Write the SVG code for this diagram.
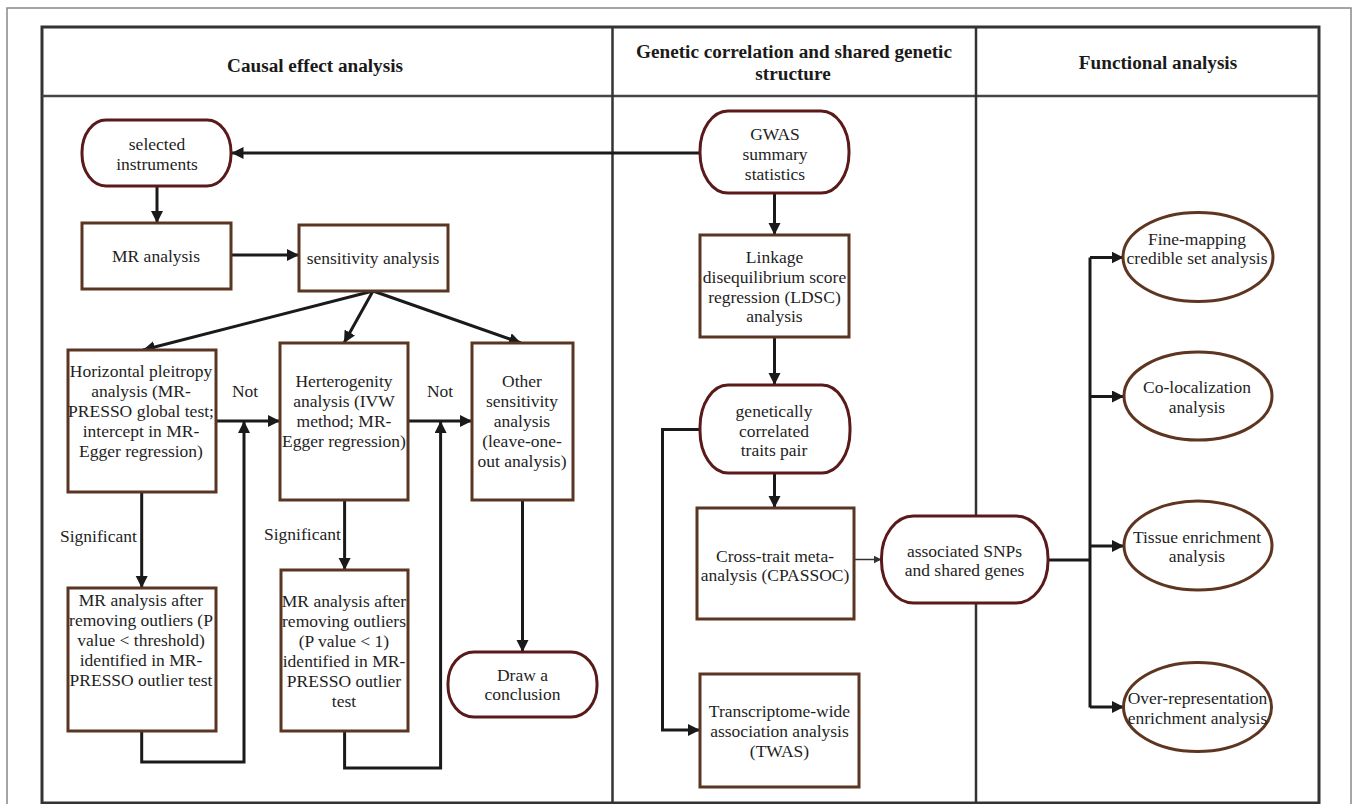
<svg xmlns="http://www.w3.org/2000/svg" width="1357" height="804" viewBox="0 0 1357 804">
<defs>
<style>
.t{font-family:"Liberation Serif","Times New Roman",serif;font-size:17.5px;fill:#1e1e1e;text-anchor:middle}
.l{font-family:"Liberation Serif","Times New Roman",serif;font-size:17.5px;fill:#1e1e1e}
.h{font-family:"Liberation Serif","Times New Roman",serif;font-size:19.2px;font-weight:bold;fill:#1a1a1a;text-anchor:middle}
.st{fill:#fff;stroke:#5b1a1a;stroke-width:3}
.bx{fill:#fff;stroke:#5a3522;stroke-width:3}
.el{fill:#fff;stroke:#5e3520;stroke-width:3}
.c{fill:none;stroke:#1a1a1a;stroke-width:3;marker-end:url(#ah)}
.cn{fill:none;stroke:#1a1a1a;stroke-width:3}
.grid{fill:none;stroke:#333;stroke-width:3}
</style>
<marker id="ah" markerUnits="userSpaceOnUse" markerWidth="13" markerHeight="13" refX="12" refY="6" orient="auto">
<path d="M0,0 L12,6 L0,12 z" fill="#1a1a1a"/>
</marker>
<marker id="ahs" markerUnits="userSpaceOnUse" markerWidth="9" markerHeight="9" refX="8" refY="4" orient="auto">
<path d="M0,0 L8,4 L0,8 z" fill="#333"/>
</marker>
</defs>
<rect x="0" y="0" width="1357" height="804" fill="#fff"/>
<rect x="7" y="8" width="1344" height="810" fill="none" stroke="#888" stroke-width="1.5"/>
<g id="table">
<rect x="42" y="27" width="1277" height="776" class="grid"/>
<line x1="42" y1="96" x2="1319" y2="96" stroke="#444" stroke-width="2.5"/>
<line x1="612.5" y1="27" x2="612.5" y2="803" stroke="#333" stroke-width="2.5"/>
<line x1="976" y1="27" x2="976" y2="803" stroke="#333" stroke-width="2.5"/>
<text class="h" x="315" y="71.5">Causal effect analysis</text>
<text class="h" x="794" y="58">Genetic correlation and shared genetic</text>
<text class="h" x="793" y="80">structure</text>
<text class="h" x="1158" y="69">Functional analysis</text>
</g>
<g id="connectors">
<line class="c" x1="700" y1="153" x2="231.5" y2="153"/>
<line class="c" x1="157" y1="186" x2="157" y2="223"/>
<line class="c" x1="231" y1="255" x2="299" y2="255"/>
<line class="c" x1="373" y1="291" x2="143" y2="350"/>
<line class="c" x1="373" y1="291" x2="344" y2="343"/>
<line class="c" x1="373" y1="291" x2="521" y2="343"/>
<line class="c" x1="216" y1="421" x2="280" y2="421"/>
<line class="c" x1="408" y1="421" x2="472" y2="421"/>
<line class="c" x1="141.7" y1="492" x2="141.7" y2="588"/>
<line class="c" x1="344.6" y1="500" x2="344.6" y2="570"/>
<line class="c" x1="522.5" y1="500" x2="522.5" y2="652"/>
<polyline class="c" points="141.7,731 141.7,762 244,762 244,421"/>
<polyline class="c" points="344.6,731 344.6,768 440.6,768 440.6,421"/>
<line class="c" x1="774.5" y1="193" x2="774.5" y2="235"/>
<line class="c" x1="774.5" y1="337" x2="774.5" y2="385"/>
<line class="c" x1="774.5" y1="473" x2="774.5" y2="508"/>
<polyline class="c" points="700,429.5 662.5,429.5 662.5,730 700,730"/>
<line x1="854" y1="559.5" x2="881.5" y2="559.5" stroke="#333" stroke-width="1.5" marker-end="url(#ahs)"/>
<line class="cn" x1="1048" y1="560" x2="1090" y2="560"/>
<line class="cn" x1="1090" y1="257.5" x2="1090" y2="707.5"/>
<line class="c" x1="1090" y1="257.5" x2="1123.5" y2="257.5"/>
<line class="c" x1="1090" y1="396.5" x2="1124" y2="396.5"/>
<line class="c" x1="1090" y1="546" x2="1124" y2="546"/>
<line class="c" x1="1090" y1="707" x2="1124" y2="707"/>
</g>
<g id="labels">
<text class="t" x="245" y="397">Not</text>
<text class="t" x="440" y="397">Not</text>
<text class="l" x="60" y="541.5">Significant</text>
<text class="l" x="264" y="540">Significant</text>
</g>
<g id="n_selected">
<rect class="st" x="82" y="120" width="149" height="66" rx="24" ry="32"/>
<text class="t" x="157" y="150">selected</text>
<text class="t" x="157" y="170">instruments</text>
</g>
<g id="n_mr">
<rect class="bx" x="82" y="223" width="149" height="66"/>
<text class="t" x="156" y="262">MR analysis</text>
</g>
<g id="n_sens">
<rect class="bx" x="299" y="225" width="149" height="66"/>
<text class="t" x="373" y="264">sensitivity analysis</text>
</g>
<g id="n_hp">
<rect class="bx" x="68" y="350" width="148" height="142"/>
<text class="t" x="141" y="377">Horizontal pleitropy</text>
<text class="t" x="141" y="397">analysis (MR-</text>
<text class="t" x="141" y="417">PRESSO global test;</text>
<text class="t" x="141" y="437">intercept in MR-</text>
<text class="t" x="141" y="457">Egger regression)</text>
</g>
<g id="n_het">
<rect class="bx" x="280" y="343" width="128" height="157"/>
<text class="t" x="344" y="387">Herterogenity</text>
<text class="t" x="344" y="407">analysis (IVW</text>
<text class="t" x="344" y="427">method; MR-</text>
<text class="t" x="344" y="447">Egger regression)</text>
</g>
<g id="n_other">
<rect class="bx" x="472" y="343" width="101" height="157"/>
<text class="t" x="522" y="387">Other</text>
<text class="t" x="522" y="407">sensitivity</text>
<text class="t" x="522" y="427">analysis</text>
<text class="t" x="522" y="447">(leave-one-</text>
<text class="t" x="522" y="467">out analysis)</text>
</g>
<g id="n_mr1">
<rect class="bx" x="68" y="588" width="148" height="143"/>
<text class="t" x="141" y="606">MR analysis after</text>
<text class="t" x="141" y="626">removing outliers (P</text>
<text class="t" x="141" y="646">value &lt; threshold)</text>
<text class="t" x="141" y="666">identified in MR-</text>
<text class="t" x="141" y="686">PRESSO outlier test</text>
</g>
<g id="n_mr2">
<rect class="bx" x="281" y="570" width="127" height="161"/>
<text class="t" x="344" y="607">MR analysis after</text>
<text class="t" x="344" y="627">removing outliers</text>
<text class="t" x="344" y="647">(P value &lt; 1)</text>
<text class="t" x="344" y="667">identified in MR-</text>
<text class="t" x="344" y="687">PRESSO outlier</text>
<text class="t" x="344" y="707">test</text>
</g>
<g id="n_draw">
<rect class="st" x="448" y="652" width="149" height="65" rx="26" ry="31"/>
<text class="t" x="522.5" y="681">Draw a</text>
<text class="t" x="522.5" y="700">conclusion</text>
</g>
<g id="n_gwas">
<rect class="st" x="700" y="111" width="149" height="82" rx="28" ry="40"/>
<text class="t" x="775" y="140">GWAS</text>
<text class="t" x="775" y="160">summary</text>
<text class="t" x="775" y="179.5">statistics</text>
</g>
<g id="n_ldsc">
<rect class="bx" x="700" y="235" width="149" height="102"/>
<text class="t" x="774.5" y="263">Linkage</text>
<text class="t" x="774.5" y="283">disequilibrium score</text>
<text class="t" x="774.5" y="303">regression (LDSC)</text>
<text class="t" x="774.5" y="322">analysis</text>
</g>
<g id="n_gc">
<rect class="st" x="700" y="385" width="150" height="88" rx="28" ry="42"/>
<text class="t" x="774" y="417">genetically</text>
<text class="t" x="774" y="437">correlated</text>
<text class="t" x="774" y="456">traits pair</text>
</g>
<g id="n_cross">
<rect class="bx" x="697" y="508" width="157" height="111"/>
<text class="t" x="775" y="562">Cross-trait meta-</text>
<text class="t" x="775" y="581">analysis (CPASSOC)</text>
</g>
<g id="n_twas">
<rect class="bx" x="700" y="674" width="159" height="113"/>
<text class="t" x="779.5" y="717">Transcriptome-wide</text>
<text class="t" x="779.5" y="737">association analysis</text>
<text class="t" x="779.5" y="757">(TWAS)</text>
</g>
<g id="n_assoc">
<rect class="st" x="881.5" y="516" width="166.5" height="87" rx="32" ry="42"/>
<text class="t" x="964.5" y="557">associated SNPs</text>
<text class="t" x="964.5" y="576">and shared genes</text>
</g>
<g id="n_fine">
<ellipse class="el" cx="1198" cy="257" rx="75" ry="44.5"/>
<text class="t" x="1197" y="245">Fine-mapping</text>
<text class="t" x="1197" y="263.5">credible set analysis</text>
</g>
<g id="n_coloc">
<ellipse class="el" cx="1198" cy="396" rx="74" ry="44"/>
<text class="t" x="1197" y="393">Co-localization</text>
<text class="t" x="1197" y="412.5">analysis</text>
</g>
<g id="n_tissue">
<ellipse class="el" cx="1198" cy="545.5" rx="74" ry="44.5"/>
<text class="t" x="1197" y="542.5">Tissue enrichment</text>
<text class="t" x="1197" y="561.5">analysis</text>
</g>
<g id="n_ora">
<ellipse class="el" cx="1197.5" cy="707" rx="74" ry="44.5"/>
<text class="t" x="1197.5" y="704">Over-representation</text>
<text class="t" x="1197.5" y="724">enrichment analysis</text>
</g>
</svg>
